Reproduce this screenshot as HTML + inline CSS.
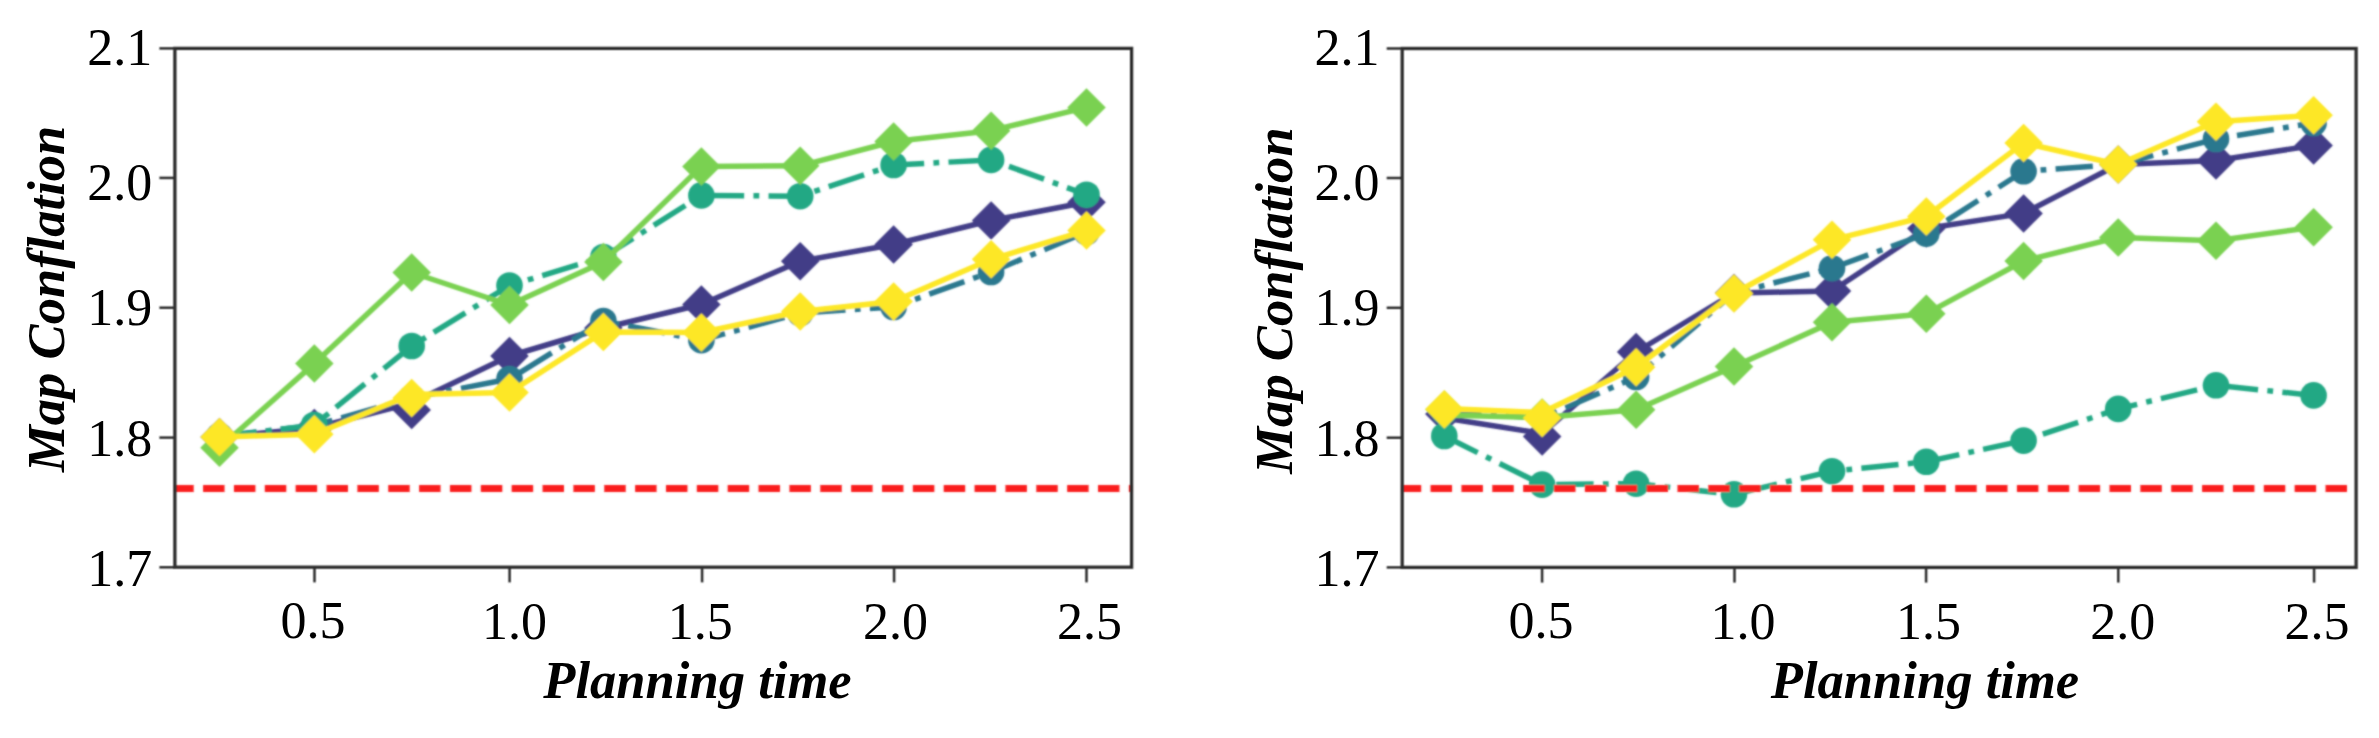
<!DOCTYPE html><html><head><meta charset="utf-8"><title>Map Conflation vs Planning time</title>
<style>html,body{margin:0;padding:0;background:#fff;}body{width:2379px;height:738px;overflow:hidden;}svg{display:block;}.tk{font-family:"Liberation Serif","Times New Roman",serif;font-size:52px;fill:#000;}.lab{font-family:"Liberation Serif","Times New Roman",serif;font-size:52.6px;font-weight:bold;font-style:italic;fill:#000;}</style></head><body>
<svg width="2379" height="738" viewBox="0 0 2379 738">
<rect width="2379" height="738" fill="#fff"/>
<defs><filter id="bd" x="-2%" y="-2%" width="104%" height="104%"><feConvolveMatrix order="5" kernelMatrix="1 6 14 6 1 6 36 84 36 6 14 84 196 84 14 6 36 84 36 6 1 6 14 6 1" divisor="784" edgeMode="none"/></filter><filter id="ba" x="-2%" y="-2%" width="104%" height="104%"><feConvolveMatrix order="3" kernelMatrix="1 2 1 2 4 2 1 2 1" divisor="16" edgeMode="none"/></filter></defs>
<defs><clipPath id="clip0"><rect x="174.9" y="48.4" width="956.7" height="518.8"/></clipPath></defs>
<g filter="url(#bd)"><g clip-path="url(#clip0)">
<polyline points="219.5,437 314.3,428 411.7,403 509.5,356 603.4,328 701.4,304.5 800.2,261.2 893.6,244.5 991.1,220.5 1086.5,202.2" fill="none" stroke="#433e87" stroke-width="5.5" stroke-linejoin="round"/>
<path d="M219.5 417.75L238.75 437L219.5 456.25L200.25 437Z" fill="#433e87"/>
<path d="M314.3 408.75L333.55 428L314.3 447.25L295.05 428Z" fill="#433e87"/>
<path d="M411.7 390.75L430.95 410L411.7 429.25L392.45 410Z" fill="#433e87"/>
<path d="M509.5 336.75L528.75 356L509.5 375.25L490.25 356Z" fill="#433e87"/>
<path d="M603.4 308.75L622.65 328L603.4 347.25L584.15 328Z" fill="#433e87"/>
<path d="M701.4 285.25L720.65 304.5L701.4 323.75L682.15 304.5Z" fill="#433e87"/>
<path d="M800.2 241.95L819.45 261.2L800.2 280.45L780.95 261.2Z" fill="#433e87"/>
<path d="M893.6 225.25L912.85 244.5L893.6 263.75L874.35 244.5Z" fill="#433e87"/>
<path d="M991.1 201.25L1010.35 220.5L991.1 239.75L971.85 220.5Z" fill="#433e87"/>
<path d="M1086.5 182.95L1105.75 202.2L1086.5 221.45L1067.25 202.2Z" fill="#433e87"/>
<polyline points="219.5,436 314.3,425.5 411.7,398 509.5,379 603.4,321 701.4,340.2 800.2,313 893.6,307 991.1,272 1086.5,232" fill="none" stroke="#2a788e" stroke-width="5.5" stroke-linejoin="round" stroke-dasharray="37.3 9.3 5.8 9.3"/>
<circle cx="219.5" cy="436" r="13.3" fill="#2a788e"/>
<circle cx="314.3" cy="425.5" r="13.3" fill="#2a788e"/>
<circle cx="411.7" cy="398" r="13.3" fill="#2a788e"/>
<circle cx="509.5" cy="379" r="13.3" fill="#2a788e"/>
<circle cx="603.4" cy="321" r="13.3" fill="#2a788e"/>
<circle cx="701.4" cy="340.2" r="13.3" fill="#2a788e"/>
<circle cx="800.2" cy="313" r="13.3" fill="#2a788e"/>
<circle cx="893.6" cy="307" r="13.3" fill="#2a788e"/>
<circle cx="991.1" cy="272" r="13.3" fill="#2a788e"/>
<circle cx="1086.5" cy="232" r="13.3" fill="#2a788e"/>
<polyline points="219.5,437 314.3,425 411.7,346 509.5,285.5 603.4,257 701.4,195.4 800.2,196.2 893.6,165 991.1,159.9 1086.5,194.7" fill="none" stroke="#22a884" stroke-width="5.5" stroke-linejoin="round" stroke-dasharray="37.3 9.3 5.8 9.3"/>
<circle cx="219.5" cy="437" r="13.3" fill="#22a884"/>
<circle cx="314.3" cy="425" r="13.3" fill="#22a884"/>
<circle cx="411.7" cy="346" r="13.3" fill="#22a884"/>
<circle cx="509.5" cy="285.5" r="13.3" fill="#22a884"/>
<circle cx="603.4" cy="257" r="13.3" fill="#22a884"/>
<circle cx="701.4" cy="195.4" r="13.3" fill="#22a884"/>
<circle cx="800.2" cy="196.2" r="13.3" fill="#22a884"/>
<circle cx="893.6" cy="165" r="13.3" fill="#22a884"/>
<circle cx="991.1" cy="159.9" r="13.3" fill="#22a884"/>
<circle cx="1086.5" cy="194.7" r="13.3" fill="#22a884"/>
<polyline points="219.5,447.8 314.3,363.6 411.7,272.5 509.5,305 603.4,262 701.4,166.4 800.2,165.8 893.6,141.5 991.1,130.7 1086.5,107.4" fill="none" stroke="#7ad151" stroke-width="5.5" stroke-linejoin="round"/>
<path d="M219.5 428.55L238.75 447.8L219.5 467.05L200.25 447.8Z" fill="#7ad151"/>
<path d="M314.3 344.35L333.55 363.6L314.3 382.85L295.05 363.6Z" fill="#7ad151"/>
<path d="M411.7 253.25L430.95 272.5L411.7 291.75L392.45 272.5Z" fill="#7ad151"/>
<path d="M509.5 285.75L528.75 305L509.5 324.25L490.25 305Z" fill="#7ad151"/>
<path d="M603.4 242.75L622.65 262L603.4 281.25L584.15 262Z" fill="#7ad151"/>
<path d="M701.4 147.15L720.65 166.4L701.4 185.65L682.15 166.4Z" fill="#7ad151"/>
<path d="M800.2 146.55L819.45 165.8L800.2 185.05L780.95 165.8Z" fill="#7ad151"/>
<path d="M893.6 122.25L912.85 141.5L893.6 160.75L874.35 141.5Z" fill="#7ad151"/>
<path d="M991.1 111.45L1010.35 130.7L991.1 149.95L971.85 130.7Z" fill="#7ad151"/>
<path d="M1086.5 88.15L1105.75 107.4L1086.5 126.65L1067.25 107.4Z" fill="#7ad151"/>
<polyline points="219.5,437 314.3,434.2 411.7,394.5 509.5,392.5 603.4,331.9 701.4,332.5 800.2,311.5 893.6,301.5 991.1,259.3 1086.5,230.4" fill="none" stroke="#fde725" stroke-width="5.5" stroke-linejoin="round"/>
<path d="M219.5 417.75L238.75 437L219.5 456.25L200.25 437Z" fill="#fde725"/>
<path d="M314.3 414.95L333.55 434.2L314.3 453.45L295.05 434.2Z" fill="#fde725"/>
<path d="M411.7 378.75L430.95 398L411.7 417.25L392.45 398Z" fill="#fde725"/>
<path d="M509.5 373.25L528.75 392.5L509.5 411.75L490.25 392.5Z" fill="#fde725"/>
<path d="M603.4 312.65L622.65 331.9L603.4 351.15L584.15 331.9Z" fill="#fde725"/>
<path d="M701.4 313.25L720.65 332.5L701.4 351.75L682.15 332.5Z" fill="#fde725"/>
<path d="M800.2 292.25L819.45 311.5L800.2 330.75L780.95 311.5Z" fill="#fde725"/>
<path d="M893.6 282.25L912.85 301.5L893.6 320.75L874.35 301.5Z" fill="#fde725"/>
<path d="M991.1 240.05L1010.35 259.3L991.1 278.55L971.85 259.3Z" fill="#fde725"/>
<path d="M1086.5 211.15L1105.75 230.4L1086.5 249.65L1067.25 230.4Z" fill="#fde725"/>
<line x1="172.2" y1="488.5" x2="1131.6" y2="488.5" stroke="#fa1e1e" stroke-width="7" stroke-dasharray="21.5 9.36"/>
</g></g>
<g filter="url(#ba)">
<rect x="174.9" y="48.4" width="956.7" height="518.8" fill="none" stroke="#2e2e2e" stroke-width="3.3"/>
<line x1="159.4" y1="48.4" x2="174.9" y2="48.4" stroke="#2e2e2e" stroke-width="2.5"/>
<line x1="159.4" y1="177.9" x2="174.9" y2="177.9" stroke="#2e2e2e" stroke-width="2.5"/>
<line x1="159.4" y1="307.7" x2="174.9" y2="307.7" stroke="#2e2e2e" stroke-width="2.5"/>
<line x1="159.4" y1="437.6" x2="174.9" y2="437.6" stroke="#2e2e2e" stroke-width="2.5"/>
<line x1="159.4" y1="567.3" x2="174.9" y2="567.3" stroke="#2e2e2e" stroke-width="2.5"/>
<line x1="314.5" y1="567.2" x2="314.5" y2="582.4" stroke="#2e2e2e" stroke-width="2.5"/>
<line x1="509.6" y1="567.2" x2="509.6" y2="582.4" stroke="#2e2e2e" stroke-width="2.5"/>
<line x1="702.1" y1="567.2" x2="702.1" y2="582.4" stroke="#2e2e2e" stroke-width="2.5"/>
<line x1="894.1" y1="567.2" x2="894.1" y2="582.4" stroke="#2e2e2e" stroke-width="2.5"/>
<line x1="1086.5" y1="567.2" x2="1086.5" y2="582.4" stroke="#2e2e2e" stroke-width="2.5"/>
</g>
<text class="tk" x="152.2" y="65.3" text-anchor="end">2.1</text>
<text class="tk" x="152.2" y="199.6" text-anchor="end">2.0</text>
<text class="tk" x="152.2" y="325" text-anchor="end">1.9</text>
<text class="tk" x="152.2" y="455.7" text-anchor="end">1.8</text>
<text class="tk" x="152.2" y="586" text-anchor="end">1.7</text>
<text class="tk" x="312.9" y="637.5" text-anchor="middle">0.5</text>
<text class="tk" x="514.6" y="639.2" text-anchor="middle">1.0</text>
<text class="tk" x="700.3" y="639.2" text-anchor="middle">1.5</text>
<text class="tk" x="895.5" y="639.2" text-anchor="middle">2.0</text>
<text class="tk" x="1089.5" y="639.2" text-anchor="middle">2.5</text>
<text class="lab" x="63.8" y="298.8" text-anchor="middle" transform="rotate(-90 63.8 298.8)">Map Conflation</text>
<text class="lab" x="697.5" y="697.9" text-anchor="middle">Planning time</text>
<defs><clipPath id="clip1"><rect x="1402.2" y="48.5" width="953.9" height="518.9"/></clipPath></defs>
<g filter="url(#bd)"><g clip-path="url(#clip1)">
<polyline points="1444.3,418 1542.1,433.5 1636.1,352 1734,293 1832,291 1926.3,228.5 2023.6,213.4 2118.2,164.5 2216,160.5 2313.6,145.5" fill="none" stroke="#433e87" stroke-width="5.5" stroke-linejoin="round"/>
<path d="M1444.3 394.75L1463.55 414L1444.3 433.25L1425.05 414Z" fill="#433e87"/>
<path d="M1542.1 417.15L1561.35 436.4L1542.1 455.65L1522.85 436.4Z" fill="#433e87"/>
<path d="M1636.1 332.75L1655.35 352L1636.1 371.25L1616.85 352Z" fill="#433e87"/>
<path d="M1734 273.75L1753.25 293L1734 312.25L1714.75 293Z" fill="#433e87"/>
<path d="M1832 271.75L1851.25 291L1832 310.25L1812.75 291Z" fill="#433e87"/>
<path d="M1926.3 209.25L1945.55 228.5L1926.3 247.75L1907.05 228.5Z" fill="#433e87"/>
<path d="M2023.6 194.15L2042.85 213.4L2023.6 232.65L2004.35 213.4Z" fill="#433e87"/>
<path d="M2118.2 145.25L2137.45 164.5L2118.2 183.75L2098.95 164.5Z" fill="#433e87"/>
<path d="M2216 141.25L2235.25 160.5L2216 179.75L2196.75 160.5Z" fill="#433e87"/>
<path d="M2313.6 126.25L2332.85 145.5L2313.6 164.75L2294.35 145.5Z" fill="#433e87"/>
<polyline points="1444.3,412 1542.1,418 1636.1,377 1734,293 1832,268.2 1926.3,233.7 2023.6,171.3 2118.2,164.5 2216,139 2313.6,123" fill="none" stroke="#2a788e" stroke-width="5.5" stroke-linejoin="round" stroke-dasharray="37.3 9.3 5.8 9.3"/>
<circle cx="1444.3" cy="412" r="13.3" fill="#2a788e"/>
<circle cx="1542.1" cy="418" r="13.3" fill="#2a788e"/>
<circle cx="1636.1" cy="377" r="13.3" fill="#2a788e"/>
<circle cx="1734" cy="293" r="13.3" fill="#2a788e"/>
<circle cx="1832" cy="268.2" r="13.3" fill="#2a788e"/>
<circle cx="1926.3" cy="233.7" r="13.3" fill="#2a788e"/>
<circle cx="2023.6" cy="171.3" r="13.3" fill="#2a788e"/>
<circle cx="2118.2" cy="164.5" r="13.3" fill="#2a788e"/>
<circle cx="2216" cy="139" r="13.3" fill="#2a788e"/>
<circle cx="2313.6" cy="123" r="13.3" fill="#2a788e"/>
<polyline points="1444.3,436 1542.1,484.6 1636.1,483.7 1734,494.3 1832,471.2 1926.3,461.8 2023.6,440.6 2118.2,408.9 2216,385.3 2313.6,395.4" fill="none" stroke="#22a884" stroke-width="5.5" stroke-linejoin="round" stroke-dasharray="37.3 9.3 5.8 9.3"/>
<circle cx="1444.3" cy="436" r="13.3" fill="#22a884"/>
<circle cx="1542.1" cy="484.6" r="13.3" fill="#22a884"/>
<circle cx="1636.1" cy="483.7" r="13.3" fill="#22a884"/>
<circle cx="1734" cy="494.3" r="13.3" fill="#22a884"/>
<circle cx="1832" cy="471.2" r="13.3" fill="#22a884"/>
<circle cx="1926.3" cy="461.8" r="13.3" fill="#22a884"/>
<circle cx="2023.6" cy="440.6" r="13.3" fill="#22a884"/>
<circle cx="2118.2" cy="408.9" r="13.3" fill="#22a884"/>
<circle cx="2216" cy="385.3" r="13.3" fill="#22a884"/>
<circle cx="2313.6" cy="395.4" r="13.3" fill="#22a884"/>
<polyline points="1444.3,415 1542.1,417.5 1636.1,409.8 1734,366.6 1832,322.3 1926.3,313.7 2023.6,261 2118.2,237.4 2216,240.7 2313.6,227.2" fill="none" stroke="#7ad151" stroke-width="5.5" stroke-linejoin="round"/>
<path d="M1444.3 390.25L1463.55 409.5L1444.3 428.75L1425.05 409.5Z" fill="#7ad151"/>
<path d="M1542.1 398.25L1561.35 417.5L1542.1 436.75L1522.85 417.5Z" fill="#7ad151"/>
<path d="M1636.1 390.55L1655.35 409.8L1636.1 429.05L1616.85 409.8Z" fill="#7ad151"/>
<path d="M1734 347.35L1753.25 366.6L1734 385.85L1714.75 366.6Z" fill="#7ad151"/>
<path d="M1832 303.05L1851.25 322.3L1832 341.55L1812.75 322.3Z" fill="#7ad151"/>
<path d="M1926.3 294.45L1945.55 313.7L1926.3 332.95L1907.05 313.7Z" fill="#7ad151"/>
<path d="M2023.6 241.75L2042.85 261L2023.6 280.25L2004.35 261Z" fill="#7ad151"/>
<path d="M2118.2 218.15L2137.45 237.4L2118.2 256.65L2098.95 237.4Z" fill="#7ad151"/>
<path d="M2216 221.45L2235.25 240.7L2216 259.95L2196.75 240.7Z" fill="#7ad151"/>
<path d="M2313.6 207.95L2332.85 227.2L2313.6 246.45L2294.35 227.2Z" fill="#7ad151"/>
<polyline points="1444.3,408.5 1542.1,412.5 1636.1,367.3 1734,293.5 1832,239.8 1926.3,216.5 2023.6,142.9 2118.2,164.5 2216,121.7 2313.6,115.3" fill="none" stroke="#fde725" stroke-width="5.5" stroke-linejoin="round"/>
<path d="M1444.3 390.05L1463.55 409.3L1444.3 428.55L1425.05 409.3Z" fill="#fde725"/>
<path d="M1542.1 398.75L1561.35 418L1542.1 437.25L1522.85 418Z" fill="#fde725"/>
<path d="M1636.1 348.05L1655.35 367.3L1636.1 386.55L1616.85 367.3Z" fill="#fde725"/>
<path d="M1734 274.25L1753.25 293.5L1734 312.75L1714.75 293.5Z" fill="#fde725"/>
<path d="M1832 220.55L1851.25 239.8L1832 259.05L1812.75 239.8Z" fill="#fde725"/>
<path d="M1926.3 197.25L1945.55 216.5L1926.3 235.75L1907.05 216.5Z" fill="#fde725"/>
<path d="M2023.6 123.65L2042.85 142.9L2023.6 162.15L2004.35 142.9Z" fill="#fde725"/>
<path d="M2118.2 145.25L2137.45 164.5L2118.2 183.75L2098.95 164.5Z" fill="#fde725"/>
<path d="M2216 102.45L2235.25 121.7L2216 140.95L2196.75 121.7Z" fill="#fde725"/>
<path d="M2313.6 96.05L2332.85 115.3L2313.6 134.55L2294.35 115.3Z" fill="#fde725"/>
<line x1="1399.7" y1="488.6" x2="2356.1" y2="488.6" stroke="#fa1e1e" stroke-width="7" stroke-dasharray="21.5 9.36"/>
</g></g>
<g filter="url(#ba)">
<rect x="1402.2" y="48.5" width="953.9" height="518.9" fill="none" stroke="#2e2e2e" stroke-width="3.3"/>
<line x1="1386.7" y1="48.5" x2="1402.2" y2="48.5" stroke="#2e2e2e" stroke-width="2.5"/>
<line x1="1386.7" y1="178" x2="1402.2" y2="178" stroke="#2e2e2e" stroke-width="2.5"/>
<line x1="1386.7" y1="307.8" x2="1402.2" y2="307.8" stroke="#2e2e2e" stroke-width="2.5"/>
<line x1="1386.7" y1="437.7" x2="1402.2" y2="437.7" stroke="#2e2e2e" stroke-width="2.5"/>
<line x1="1386.7" y1="567.4" x2="1402.2" y2="567.4" stroke="#2e2e2e" stroke-width="2.5"/>
<line x1="1542.1" y1="567.4" x2="1542.1" y2="582.6" stroke="#2e2e2e" stroke-width="2.5"/>
<line x1="1734.5" y1="567.4" x2="1734.5" y2="582.6" stroke="#2e2e2e" stroke-width="2.5"/>
<line x1="1926.1" y1="567.4" x2="1926.1" y2="582.6" stroke="#2e2e2e" stroke-width="2.5"/>
<line x1="2118.3" y1="567.4" x2="2118.3" y2="582.6" stroke="#2e2e2e" stroke-width="2.5"/>
<line x1="2314.1" y1="567.4" x2="2314.1" y2="582.6" stroke="#2e2e2e" stroke-width="2.5"/>
</g>
<text class="tk" x="1379.5" y="65.3" text-anchor="end">2.1</text>
<text class="tk" x="1379.5" y="199.6" text-anchor="end">2.0</text>
<text class="tk" x="1379.5" y="325" text-anchor="end">1.9</text>
<text class="tk" x="1379.5" y="455.7" text-anchor="end">1.8</text>
<text class="tk" x="1379.5" y="586" text-anchor="end">1.7</text>
<text class="tk" x="1541" y="637.5" text-anchor="middle">0.5</text>
<text class="tk" x="1743" y="639.2" text-anchor="middle">1.0</text>
<text class="tk" x="1928.4" y="639.2" text-anchor="middle">1.5</text>
<text class="tk" x="2122.7" y="639.2" text-anchor="middle">2.0</text>
<text class="tk" x="2317.1" y="639.2" text-anchor="middle">2.5</text>
<text class="lab" x="1291.7" y="300.5" text-anchor="middle" transform="rotate(-90 1291.7 300.5)">Map Conflation</text>
<text class="lab" x="1925" y="697.9" text-anchor="middle">Planning time</text>
</svg></body></html>
